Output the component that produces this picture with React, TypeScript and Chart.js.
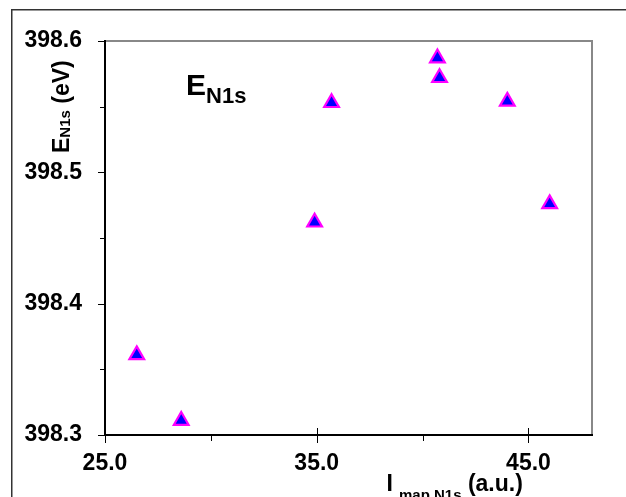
import { useEffect, useRef } from 'react';
import { Chart, registerables } from 'chart.js';

Chart.register(...registerables);

// ---- data ----
const intensityMap = [26.5, 28.6, 34.9, 35.7, 40.7, 40.8, 44.0, 46.0];
const bindingEnergy = [398.361, 398.311, 398.462, 398.553, 398.587, 398.572, 398.554, 398.476];

const xRange = [25, 48];
const yRange = [398.3, 398.6];
const xMajorTicks = [25, 35, 45];
const xMinorTicks = [30, 40];
const yMajorTicks = [398.3, 398.4, 398.5, 398.6];
const yMinorTicks = [398.35, 398.45, 398.55];

const FONT = "'Liberation Sans', Arial, sans-serif";

const framePlugin = {
  id: 'excelFrame',
  beforeDatasetsDraw(chart: any) {
    const ctx = chart.ctx as CanvasRenderingContext2D;
    const { left, right, top, bottom } = chart.chartArea;
    const xs = chart.scales.x;
    const ys = chart.scales.y;
    ctx.save();

    // outer chart frame
    ctx.strokeStyle = '#333';
    ctx.lineWidth = 1.5;
    ctx.strokeRect(11.75, 9.75, 700, 700);

    // plot area border (gray)
    ctx.strokeStyle = '#888';
    ctx.lineWidth = 2;
    ctx.strokeRect(left, top, right - left, bottom - top);

    // axis lines (black)
    ctx.fillStyle = '#000';
    ctx.fillRect(left - 1, top - 1, 2, bottom - top + 2);
    ctx.fillRect(left - 1, bottom - 1, right - left + 2, 2);

    // ticks
    ctx.strokeStyle = '#000';
    ctx.lineWidth = 1;
    ctx.beginPath();
    for (const v of xMajorTicks) {
      const px = Math.round(xs.getPixelForValue(v)) + 0.5;
      ctx.moveTo(px, bottom - 7);
      ctx.lineTo(px, bottom + 8);
    }
    for (const v of xMinorTicks) {
      const px = Math.round(xs.getPixelForValue(v)) + 0.5;
      ctx.moveTo(px, bottom);
      ctx.lineTo(px, bottom + 6);
    }
    for (const v of yMajorTicks) {
      const py = Math.round(ys.getPixelForValue(v)) + 0.5;
      ctx.moveTo(left - 7, py);
      ctx.lineTo(left, py);
    }
    for (const v of yMinorTicks) {
      const py = Math.round(ys.getPixelForValue(v)) + 0.5;
      ctx.moveTo(left - 5, py);
      ctx.lineTo(left, py);
    }
    ctx.stroke();

    ctx.fillStyle = '#000';
    ctx.textBaseline = 'alphabetic';
    ctx.textAlign = 'left';

    // in-plot label E_N1s
    ctx.font = `bold 30px ${FONT}`;
    ctx.fillText('E', 186, 95);
    const eW = ctx.measureText('E').width;
    ctx.font = `bold 22px ${FONT}`;
    ctx.fillText('N1s', 186 + eW, 103);

    // x axis title I_map N1s (a.u.)
    ctx.font = `bold 23px ${FONT}`;
    ctx.fillText('I', 386.5, 491);
    ctx.font = `bold 15px ${FONT}`;
    ctx.fillText('map N1s', 399, 500);
    const subW = ctx.measureText('map N1s').width;
    ctx.font = `bold 23px ${FONT}`;
    ctx.fillText(' (a.u.)', 399 + subW, 491);

    // y axis title E_N1s (eV), rotated
    ctx.translate(68.5, 153);
    ctx.rotate(-Math.PI / 2);
    ctx.font = `bold 23px ${FONT}`;
    ctx.fillText('E', 0, 0);
    const e2 = ctx.measureText('E').width;
    ctx.font = `bold 15px ${FONT}`;
    ctx.fillText('N1s', e2, 1);
    const n2 = ctx.measureText('N1s').width;
    ctx.font = `bold 23px ${FONT}`;
    ctx.fillText(' (eV)', e2 + n2, 0);

    ctx.restore();
  },
};

export default function App() {
  const canvasRef = useRef<HTMLCanvasElement | null>(null);

  useEffect(() => {
    if (!canvasRef.current) return;
    const points = intensityMap.map((x, i) => ({ x, y: bindingEnergy[i] }));
    const chart = new Chart(canvasRef.current, {
      type: 'scatter',
      data: {
        datasets: [
          {
            data: points,
            pointStyle: 'triangle',
            pointRadius: 8.5,
            pointHoverRadius: 8.5,
            backgroundColor: '#0000FF',
            borderColor: '#FF00FF',
            borderWidth: 2.2,
          },
        ],
      },
      options: {
        responsive: false,
        animation: false,
        events: [],
        layout: { padding: { left: 0, top: 41, right: 34, bottom: 0 } },
        plugins: {
          legend: { display: false },
          tooltip: { enabled: false },
          title: { display: false },
        },
        scales: {
          x: {
            type: 'linear',
            min: xRange[0],
            max: xRange[1],
            grid: { display: false, drawTicks: false, tickLength: 0 },
            border: { display: false },
            afterBuildTicks: (s: any) => {
              s.ticks = xMajorTicks.map((v) => ({ value: v }));
            },
            afterFit: (s: any) => {
              s.height = 62;
            },
            ticks: {
              padding: 15,
              color: '#000',
              maxRotation: 0,
              autoSkip: false,
              font: { family: FONT, size: 23, weight: 'bold' },
              callback: (v: any) => Number(v).toFixed(1),
            },
          },
          y: {
            type: 'linear',
            min: yRange[0],
            max: yRange[1],
            grid: { display: false, drawTicks: false, tickLength: 0 },
            border: { display: false },
            afterBuildTicks: (s: any) => {
              s.ticks = yMajorTicks.map((v) => ({ value: v }));
            },
            afterFit: (s: any) => {
              s.width = 105;
            },
            ticks: {
              padding: 23,
              color: '#000',
              autoSkip: false,
              font: { family: FONT, size: 23, weight: 'bold' },
              callback: (v: any) => Number(v).toFixed(1),
            },
          },
        },
      },
      plugins: [framePlugin],
    });
    return () => chart.destroy();
  }, []);

  return (
    <div style={{ position: 'fixed', left: 0, top: 0, width: 626, height: 497, background: '#fff' }}>
      <canvas ref={canvasRef} width={626} height={497} style={{ display: 'block' }} />
    </div>
  );
}
